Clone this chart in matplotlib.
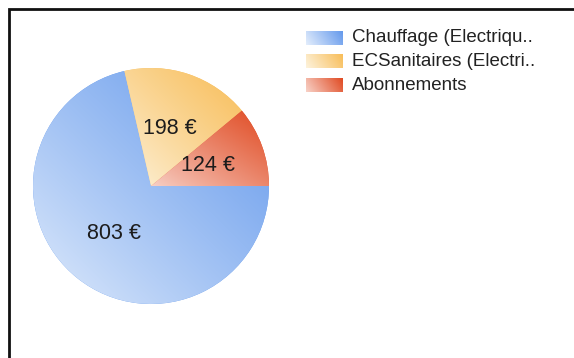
import numpy as np
import matplotlib.pyplot as plt
from matplotlib.colors import LinearSegmentedColormap
from matplotlib.lines import Line2D

# energy cost breakdown (EUR / year)
categories = ["Chauffage (Electriqu..", "ECSanitaires (Electri..", "Abonnements"]
values = [803, 198, 124]
value_labels = ["803 €", "198 €", "124 €"]

# light -> saturated end of each slice gradient
light_cols = ["#e4eefc", "#fdf3dd", "#f8d2c8"]
dark_cols = ["#6499ec", "#f8bd58", "#e04a22"]

W, H = 574, 358
fig = plt.figure(figsize=(W / 100, H / 100), dpi=100)
fig.patch.set_facecolor("white")

# pie axes: centre (151, 186) px, radius 118 px
cx, cy, R = 151, 186, 118
ax = fig.add_axes([(cx - R) / W, (H - cy - R) / H, 2 * R / W, 2 * R / H])


def gradient(n=200, wx=0.5, wy=0.5, gamma=0.85):
    x = np.linspace(0, 1, n)
    X, Y = np.meshgrid(x, x)
    return (wx * X + wy * Y) ** gamma


wedges, _ = ax.pie(values, startangle=0, counterclock=False, radius=1,
                   colors=dark_cols, wedgeprops=dict(linewidth=0))

for w, lc, dc in zip(wedges, light_cols, dark_cols):
    cmap = LinearSegmentedColormap.from_list("g", [lc, dc])
    th = np.radians(np.linspace(w.theta1, w.theta2, 200))
    xs = np.r_[0, w.r * np.cos(th)]
    ys = np.r_[0, w.r * np.sin(th)]
    im = ax.imshow(gradient(), cmap=cmap, origin="lower", vmin=0, vmax=1,
                   extent=[xs.min(), xs.max(), ys.min(), ys.max()],
                   interpolation="bilinear", zorder=w.get_zorder() + 0.5)
    im.set_clip_path(w)

for w, lab in zip(wedges, value_labels):
    mid = np.radians((w.theta1 + w.theta2) / 2)
    ax.text(0.51 * np.cos(mid), 0.51 * np.sin(mid), lab, ha="center",
            va="center", fontsize=15.5, color="#1c1c1c", zorder=5,
            family=["Liberation Sans Narrow", "Liberation Sans"])

ax.set_xlim(-1, 1)
ax.set_ylim(-1, 1)
ax.set_aspect("auto")
ax.axis("off")

# overlay in pixel coordinates for legend and frame
ov = fig.add_axes([0, 0, 1, 1], zorder=10)
ov.axis("off")

row_y = [38, 61, 85]
for name, lc, dc, y in zip(categories, light_cols, dark_cols, row_y):
    cmap = LinearSegmentedColormap.from_list("g", [lc, dc])
    ov.imshow(gradient(wx=0.8, wy=0.2, gamma=1)[::-1], cmap=cmap,
              vmin=0, vmax=1, extent=[306, 343, y + 7, y - 7],
              interpolation="bilinear")
    ov.text(352, y, name, ha="left", va="center", fontsize=13.5,
            color="#222222", family="Liberation Sans")

ov.set_xlim(0, W)
ov.set_ylim(H, 0)
ov.set_aspect("auto")

# frame (top and left edges visible)
ov.add_line(Line2D([8.5, 8.5, W + 5], [H + 5, 8.5, 8.5], color="#111111",
                   linewidth=2, solid_joinstyle="miter"))

fig.savefig("out.png", dpi=100)
